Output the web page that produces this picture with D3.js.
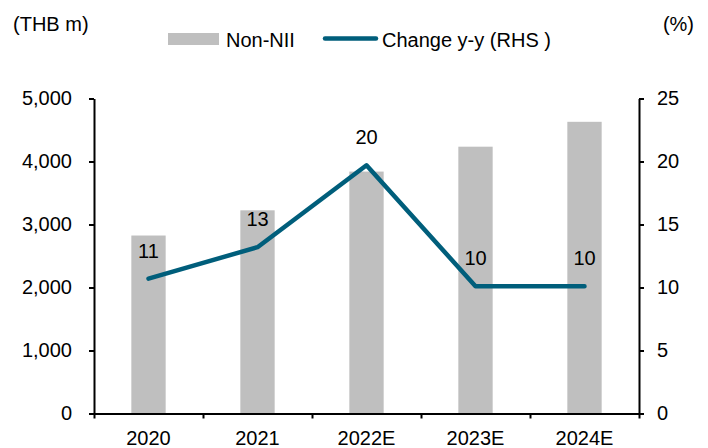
<!DOCTYPE html>
<html>
<head>
<meta charset="utf-8">
<script src="https://cdn.jsdelivr.net/npm/d3@7"></script>
<style>
  body { margin: 0; background: #fff; }
  text { font-family: "Liberation Sans", Arial, sans-serif; fill: #000; }
  .axis path, .axis line { stroke: #000; stroke-width: 2; }
</style>
</head>
<body>
<div id="chart"></div>
<script>
var svgWidth = 708;
var svgHeight = 448;

var margin = { top: 98.5, right: 69, bottom: 34.5, left: 94 };
var width = svgWidth - margin.left - margin.right;
var height = svgHeight - margin.top - margin.bottom;

// data
var years = ["2020", "2021", "2022E", "2023E", "2024E"];
var nonNII = [2825, 3225, 3840, 4235, 4630];
var changeYY = [10.7, 13.2, 19.7, 10.1, 10.1];
var changeLabels = ["11", "13", "20", "10", "10"];
var leftTicks = [0, 1000, 2000, 3000, 4000, 5000];
var rightTicks = [0, 5, 10, 15, 20, 25];

var barColor = "#bfbfbf";
var lineColor = "#005e7b";

var svg = d3.select("#chart").append("svg")
  .attr("width", svgWidth)
  .attr("height", svgHeight);

var chartGroup = svg.append("g")
  .attr("transform", `translate(${margin.left}, ${margin.top})`);

// scales
var xScale = d3.scaleBand().domain(years).range([0, width]).padding(0);
var xEdges = d3.scaleLinear().domain([0, years.length]).range([0, width]);
var yLeft = d3.scaleLinear().domain([0, 5000]).range([height, 0]);
var yRight = d3.scaleLinear().domain([0, 25]).range([height, 0]);

var barWidth = xScale.bandwidth() * 0.315;

// bars
chartGroup.selectAll(".bar")
  .data(nonNII)
  .enter()
  .append("rect")
  .attr("class", "bar")
  .attr("x", (d, i) => xScale(years[i]) + xScale.bandwidth() / 2 - barWidth / 2)
  .attr("y", d => yLeft(d))
  .attr("width", barWidth)
  .attr("height", d => height - yLeft(d))
  .attr("fill", barColor);

// line
var line = d3.line()
  .x((d, i) => xScale(years[i]) + xScale.bandwidth() / 2)
  .y(d => yRight(d));

chartGroup.append("path")
  .datum(changeYY)
  .attr("d", line)
  .attr("fill", "none")
  .attr("stroke", lineColor)
  .attr("stroke-width", 4.5)
  .attr("stroke-linejoin", "round")
  .attr("stroke-linecap", "round");

// line labels
chartGroup.selectAll(".lineLabel")
  .data(changeYY)
  .enter()
  .append("text")
  .attr("class", "lineLabel")
  .attr("x", (d, i) => xScale(years[i]) + xScale.bandwidth() / 2)
  .attr("y", d => yRight(d) - 21)
  .attr("text-anchor", "middle")
  .attr("font-size", "20px")
  .text((d, i) => changeLabels[i]);

// axes
var leftAxis = d3.axisLeft(yLeft)
  .tickValues(leftTicks)
  .tickSize(5)
  .tickSizeOuter(0)
  .tickPadding(17)
  .tickFormat(d3.format(","));

var rightAxis = d3.axisRight(yRight)
  .tickValues(rightTicks)
  .tickSize(5)
  .tickSizeOuter(0)
  .tickPadding(13)
  .tickFormat(d3.format("d"));

var leftG = chartGroup.append("g").attr("class", "axis").call(leftAxis);
var rightG = chartGroup.append("g").attr("class", "axis")
  .attr("transform", `translate(${width}, 0)`)
  .call(rightAxis);

// x axis: ticks at category edges, labels in the middle
var edgeAxis = d3.axisBottom(xEdges)
  .ticks(years.length)
  .tickSize(5)
  .tickSizeOuter(0)
  .tickFormat("");

chartGroup.append("g").attr("class", "axis")
  .attr("transform", `translate(0, ${height})`)
  .call(edgeAxis);

var labelAxis = d3.axisBottom(xScale).tickSize(0).tickPadding(17);
var labelG = chartGroup.append("g").attr("class", "axis")
  .attr("transform", `translate(0, ${height})`)
  .call(labelAxis);
labelG.select(".domain").remove();

chartGroup.selectAll(".axis text")
  .attr("font-size", "20px")
  .attr("font-family", "'Liberation Sans', Arial, sans-serif")
  .attr("fill", "#000");

// unit labels
svg.append("text")
  .attr("x", 13)
  .attr("y", 31)
  .attr("font-size", "20px")
  .text("(THB m)");

svg.append("text")
  .attr("x", 694)
  .attr("y", 31)
  .attr("text-anchor", "end")
  .attr("font-size", "20px")
  .text("(%)");

// legend
var legend = svg.append("g");
legend.append("rect")
  .attr("x", 168).attr("y", 33)
  .attr("width", 51).attr("height", 12)
  .attr("fill", barColor);
legend.append("text")
  .attr("x", 226).attr("y", 46.5)
  .attr("font-size", "20px")
  .text("Non-NII");
legend.append("line")
  .attr("x1", 325).attr("x2", 376)
  .attr("y1", 38.5).attr("y2", 38.5)
  .attr("stroke", lineColor)
  .attr("stroke-width", 4.5)
  .attr("stroke-linecap", "round");
legend.append("text")
  .attr("x", 382).attr("y", 46.5)
  .attr("font-size", "20px")
  .text("Change y-y (RHS )");
</script>
</body>
</html>
